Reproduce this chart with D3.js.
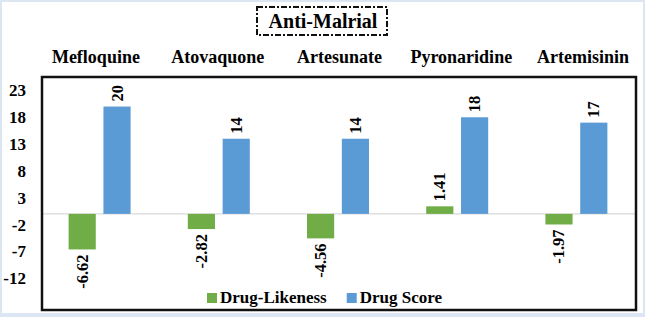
<!DOCTYPE html>
<html>
<head>
<meta charset="utf-8">
<script src="https://cdn.jsdelivr.net/npm/d3@7"></script>
<style>
  html, body { margin: 0; padding: 0; background: #dce6f2; }
  svg { display: block; font-family: "Liberation Serif", "Times New Roman", serif; font-weight: bold; }
</style>
</head>
<body>
<svg id="chart" width="645" height="317"></svg>
<script>
// Anti-Malrial chart data
const categories = ["Mefloquine", "Atovaquone", "Artesunate", "Pyronaridine", "Artemisinin"];
const drugLikeness = [-6.62, -2.82, -4.56, 1.41, -1.97];
const drugScore = [20, 14, 14, 18, 17];
const yTicks = [23, 18, 13, 8, 3, -2, -7, -12];
const seriesNames = ["Drug-Likeness", "Drug Score"];
const seriesColors = ["#70ad47", "#5b9bd5"];

const svg = d3.select("#chart");
const W = 645, H = 317;
const frame = {left: 42, top: 77, right: 636, bottom: 310};

// white page with a thin light-blue edge
svg.append("rect").attr("x", 2).attr("y", 2).attr("width", W - 4).attr("height", H - 6).attr("fill", "#fff");

const rows = categories.map((c, i) => ({name: c, values: [drugLikeness[i], drugScore[i]]}));

const x0 = d3.scaleBand().domain(categories).range([40, frame.right]).paddingInner(0.48).paddingOuter(0.24);
const x1 = d3.scaleBand().domain(seriesNames).range([0, x0.bandwidth()]).paddingInner(0.22);
const y = d3.scaleLinear().domain([-17.9, 25.5]).range([frame.bottom, frame.top]);
const header = d3.scaleBand().domain(categories).range([35, 644]);

// title with dash-dot box
svg.append("rect").attr("x", 257).attr("y", 7).attr("width", 130).attr("height", 28)
    .attr("fill", "none").attr("stroke", "#111").attr("stroke-width", 2).attr("stroke-dasharray", "6,2,2,2");
svg.append("text").attr("x", 323).attr("y", 28).attr("text-anchor", "middle")
    .attr("font-size", 20).text("Anti-Malrial");

// category headings above the frame
svg.append("g").selectAll("text").data(categories).join("text")
    .attr("x", d => header(d) + header.bandwidth() / 2)
    .attr("y", 63)
    .attr("text-anchor", "middle")
    .attr("font-size", 18)
    .text(d => d);

// y tick labels
const yAxis = svg.append("g").attr("transform", `translate(${frame.left},0)`)
    .call(d3.axisLeft(y).tickValues(yTicks).tickFormat(d => String(d)).tickSize(0).tickPadding(16));
yAxis.select(".domain").remove();
yAxis.attr("font-family", null);
yAxis.selectAll("text").attr("font-size", 17).attr("fill", "#000");

// zero line
svg.append("line").attr("x1", frame.left).attr("x2", frame.right)
    .attr("y1", y(0)).attr("y2", y(0)).attr("stroke", "#d0d0d0").attr("stroke-width", 1);

// bars
const groups = svg.append("g").selectAll("g").data(rows).join("g")
    .attr("transform", d => `translate(${x0(d.name)},0)`);

groups.selectAll("rect")
    .data(d => d.values.map((v, i) => ({key: seriesNames[i], value: v, color: seriesColors[i]})))
    .join("rect")
    .attr("x", d => x1(d.key))
    .attr("y", d => y(Math.max(0, d.value)))
    .attr("width", x1.bandwidth())
    .attr("height", d => Math.abs(y(d.value) - y(0)))
    .attr("fill", d => d.color);

// rotated value labels
groups.selectAll("text")
    .data(d => d.values.map((v, i) => ({key: seriesNames[i], value: v})))
    .join("text")
    .attr("transform", d => {
        const cx = x1(d.key) + x1.bandwidth() / 2;
        const cy = d.value >= 0 ? y(d.value) - 5 : y(d.value) + 5;
        return `translate(${cx},${cy}) rotate(-90)`;
    })
    .attr("text-anchor", d => d.value >= 0 ? "start" : "end")
    .attr("dominant-baseline", "central")
    .attr("font-size", 16.5)
    .text(d => d.value);

// frame
svg.append("rect").attr("x", frame.left).attr("y", frame.top)
    .attr("width", frame.right - frame.left).attr("height", frame.bottom - frame.top)
    .attr("fill", "none").attr("stroke", "#111").attr("stroke-width", 2.5);

// legend
const legend = svg.append("g").attr("transform", "translate(207,303)");
let lx = 0;
seriesNames.forEach((name, i) => {
    const item = legend.append("g").attr("transform", `translate(${lx},0)`);
    item.append("rect").attr("x", 0).attr("y", -10).attr("width", 10).attr("height", 10).attr("fill", seriesColors[i]);
    const t = item.append("text").attr("x", 13).attr("y", 0).attr("font-size", 17).text(name);
    lx += 13 + t.node().getComputedTextLength() + 20;
});
</script>
</body>
</html>
